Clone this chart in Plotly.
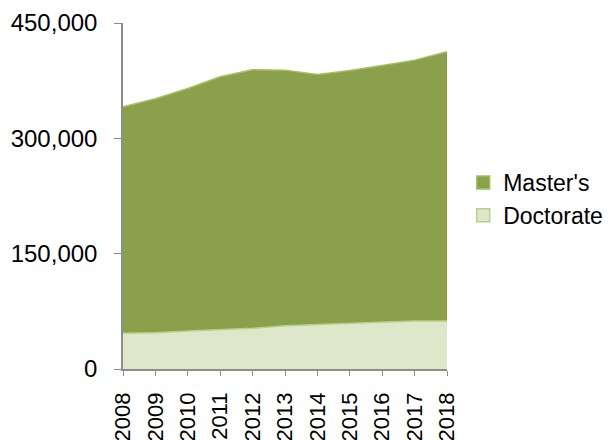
import plotly.graph_objects as go

# --- Data ----------------------------------------------------
years = [2008, 2009, 2010, 2011, 2012, 2013, 2014, 2015, 2016, 2017, 2018]
doctorate = [46400, 47200, 49400, 51600, 52900, 56300, 57600, 59800, 61100, 62400, 62400]
masters = [294600, 304200, 315500, 328400, 336200, 332400, 325500, 328500, 333700, 339300, 350100]
y_ticks = [0, 150000, 300000, 450000]
y_tick_labels = ["0", "150,000", "300,000", "450,000"]

FONT = "Liberation Sans, Arial, sans-serif"
MASTERS_FILL, MASTERS_LINE = "#8AA04B", "#A3C163"
DOC_FILL, DOC_LINE = "#DEE7C9", "#B9D08A"

fig = go.Figure()

# bottom layer first so the stack builds up from it
fig.add_trace(go.Scatter(
    x=years, y=doctorate, name="Doctorate",
    stackgroup="one", mode="lines",
    line=dict(color=DOC_LINE, width=1.5),
    fillcolor=DOC_FILL, showlegend=False,
))
fig.add_trace(go.Scatter(
    x=years, y=masters, name="Master's",
    stackgroup="one", mode="lines",
    line=dict(color=MASTERS_LINE, width=1.5),
    fillcolor=MASTERS_FILL, showlegend=False,
))

# square legend keys like the original
for name, fill, edge in [("Master's", MASTERS_FILL, MASTERS_LINE),
                         ("Doctorate", DOC_FILL, DOC_LINE)]:
    fig.add_trace(go.Scatter(
        x=[None], y=[None], name=name, mode="markers",
        marker=dict(symbol="square", size=13, color=fill,
                    line=dict(color=edge, width=1.5)),
    ))

fig.update_xaxes(
    range=[2008, 2018],
    tickvals=years,
    ticktext=[str(y) for y in years],
    tickangle=-90,
    ticks="outside", ticklen=5, tickcolor="#8C8C8C",
    ticklabelstandoff=8,
    showline=True, linecolor="#8C8C8C", linewidth=1.5,
    showgrid=False, zeroline=False, automargin=False,
    tickfont=dict(family=FONT, size=22, color="#000000"),
)
fig.update_yaxes(
    range=[0, 450000],
    tickvals=y_ticks,
    ticktext=y_tick_labels,
    ticks="outside", ticklen=7, tickcolor="#8C8C8C",
    ticklabelstandoff=12,
    showline=True, linecolor="#8C8C8C", linewidth=1.5,
    showgrid=False, zeroline=False, automargin=False,
    tickfont=dict(family=FONT, size=24, color="#000000"),
)

# the page body adds an 8px offset, so margins are shifted to compensate
fig.update_layout(
    width=611, height=440,
    margin=dict(l=115, r=172, t=15, b=79),
    paper_bgcolor="white", plot_bgcolor="white",
    showlegend=True,
    legend=dict(
        xref="container", yref="container",
        x=0.745, y=0.566, xanchor="left", yanchor="middle",
        traceorder="normal",
        font=dict(family=FONT, size=23, color="#000000"),
        itemwidth=30, tracegroupgap=0,
        bgcolor="rgba(0,0,0,0)",
    ),
)

fig.write_html("out.html")
